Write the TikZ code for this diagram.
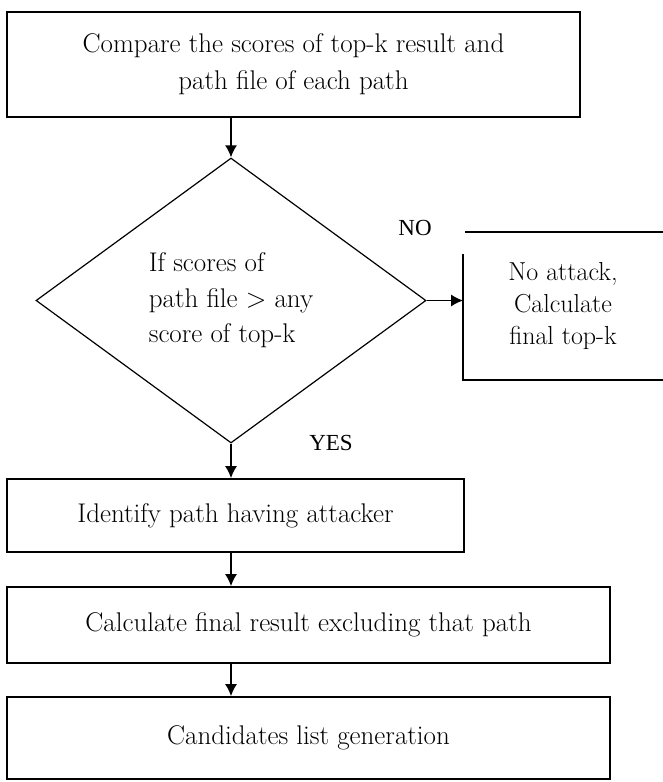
\documentclass[tikz,border=0pt]{standalone}
\usepackage{fontspec}
\newfontfamily\labelfont{Liberation Serif}
\usetikzlibrary{arrows.meta,shapes.geometric}
\tikzset{%
  >={Latex[width=12pt,length=12pt]},
  % Specifications for style of nodes:
         base/.style = {rectangle, draw=black, line width=1.6pt,
                        text centered, align=center, inner sep=0pt,
                        font=\fontsize{27}{37}\selectfont},
      stepbox/.style = {base, minimum width=603pt},
     decision/.style = {diamond, draw=black, line width=1.2pt, inner sep=0pt,
                        minimum width=390pt, minimum height=285pt,
                        align=left, font=\fontsize{27}{35.5}\selectfont},
       answer/.style = {font=\labelfont\fontsize{23}{26}\selectfont},
        frame/.style = {line width=1.6pt},
}

\begin{document}
\begin{tikzpicture}[x=1pt, y=-1pt, line width=1.8pt]
  \useasboundingbox (0,0) rectangle (662,782);
  % Specification of nodes (position, etc.)

  \node (compare)   [base, minimum width=573pt, minimum height=105pt] at (293.5,64.5)
        {Compare the scores of top-k result and\\path file of each path};
  \node (check)     [decision] at (231,300.5) {If scores of\\path file > any\\score of top-k};
  \node (noattack)  [base, draw=none, minimum width=198pt, minimum height=146pt,
        font=\fontsize{26}{32}\selectfont] at (563,306) {No attack,\\Calculate\\final top-k};
  \node (identify)  [base, minimum width=457pt, minimum height=73pt] at (235.5,515.5)
        {Identify path having attacker};
  \node (calc)      [stepbox, minimum height=76pt] at (308.5,625)
        {Calculate final result excluding that path};
  \node (candidate) [stepbox, minimum height=82pt] at (308.5,738)
        {Candidates list generation};

  \node (no)  [answer] at (415,228) {NO};
  \node (yes) [answer] at (331,443) {YES};

  % open frame of the right box
  \draw[frame] ([xshift=2pt]noattack.north west) -- (noattack.north east);
  \draw[frame] ([yshift=-22pt]noattack.north west) -- (noattack.south west) -- (noattack.south east);

 \draw[->] (check.north |- compare.south) -- (check.north);
 \draw[->] (check.east) -- (check.east -| noattack.west);
 \draw[->] (check.south) -- (check.south |- identify.north);
 \draw[->] (check.south |- identify.south) -- (check.south |- calc.north);
 \draw[->] (check.south |- calc.south) -- (check.south |- candidate.north);

\end{tikzpicture}
\end{document}
